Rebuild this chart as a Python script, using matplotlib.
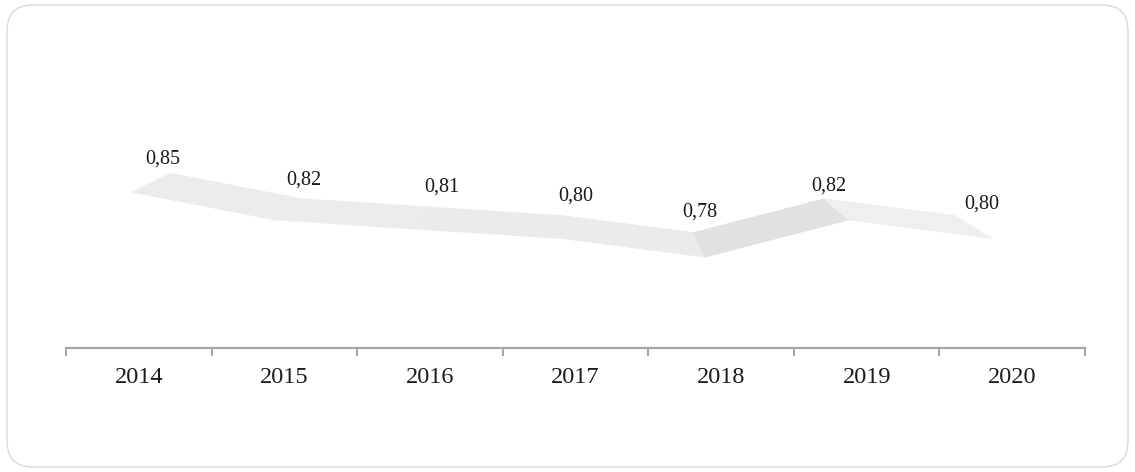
import matplotlib
matplotlib.use("Agg")
import matplotlib.pyplot as plt
from matplotlib.patches import Polygon, FancyBboxPatch
from matplotlib.transforms import IdentityTransform
import numpy as np

YEARS = ["2014", "2015", "2016", "2017", "2018", "2019", "2020"]
VALUES = [0.85, 0.82, 0.81, 0.80, 0.78, 0.82, 0.80]
LABELS = ["0,85", "0,82", "0,81", "0,80", "0,78", "0,82", "0,80"]

# per-segment shading of the 3D ribbon (top face)
SEG_COLORS = ["#ececec", "#ececec", "#ebebeb", "#ebebeb", "#e1e1e1", "#efefef"]
# label nudges in points, mimicking Excel's slightly uneven placement
LABEL_DX = [-6, 1.5, 7, 9.5, 4.5, 3.5, 19]
LABEL_DY = [3.5, 7, 7.5, 7, 8, 2.5, 1.5]

W, H, DPI = 1135, 472, 100
INK = "#1a1a1a"
AXIS = "#a6a6a6"

plt.rcParams["font.family"] = ["Liberation Serif", "DejaVu Serif"]

fig = plt.figure(figsize=(W / DPI, H / DPI), dpi=DPI)
fig.patch.set_facecolor("white")

# rounded chart-area border
border = FancyBboxPatch((7, 5), 1121, 462, boxstyle="round,pad=0,rounding_size=26",
                        transform=IdentityTransform(), facecolor="none",
                        edgecolor="#d9d9d9", linewidth=1.0, zorder=-1)
fig.patches.append(border)

ax = fig.add_axes([66 / W, 1 - 348 / H, 1019 / W, 298 / H])
ax.set_facecolor("none")
x = np.arange(len(YEARS))
ax.set_xlim(-0.5, len(YEARS) - 0.5)
ax.set_ylim(0.682, 1.003)

for side in ["left", "right", "top"]:
    ax.spines[side].set_visible(False)
ax.spines["bottom"].set_color(AXIS)
ax.spines["bottom"].set_linewidth(1.6)
ax.set_yticks([])

ax.set_xticks(x)
ax.set_xticklabels(YEARS, fontsize=17.5, color=INK)
ax.tick_params(axis="x", which="major", length=0, pad=14)
ax.set_xticks(np.arange(-0.5, len(YEARS)), minor=True)
ax.tick_params(axis="x", which="minor", length=6, width=1.4, color=AXIS, direction="out")

# perspective ribbon: front edge at the data, back edge pulled toward a vanishing point
fig.canvas.draw()
front = ax.transData.transform(np.column_stack([x, VALUES]))
x0 = front[0, 0]
front[:, 0] = front[:, 0] - 7 - 0.0153 * (front[:, 0] - x0)
vanish = np.array([573.0, H + 20.0])
depth = 0.088
back = front + depth * (vanish - front)

inv = ax.transData.inverted()
front_d = inv.transform(front)
back_d = inv.transform(back)

for i in range(len(YEARS) - 1):
    quad = [front_d[i], front_d[i + 1], back_d[i + 1], back_d[i]]
    ax.add_patch(Polygon(quad, closed=True, facecolor=SEG_COLORS[i],
                         edgecolor=SEG_COLORS[i], linewidth=0.6, zorder=2))

for i, lab in enumerate(LABELS):
    ax.annotate(lab, xy=back_d[i], xytext=(LABEL_DX[i], LABEL_DY[i]),
                textcoords="offset points", ha="center", va="bottom",
                fontsize=14.5, color=INK, zorder=3)

fig.savefig("out.png", dpi=DPI)
